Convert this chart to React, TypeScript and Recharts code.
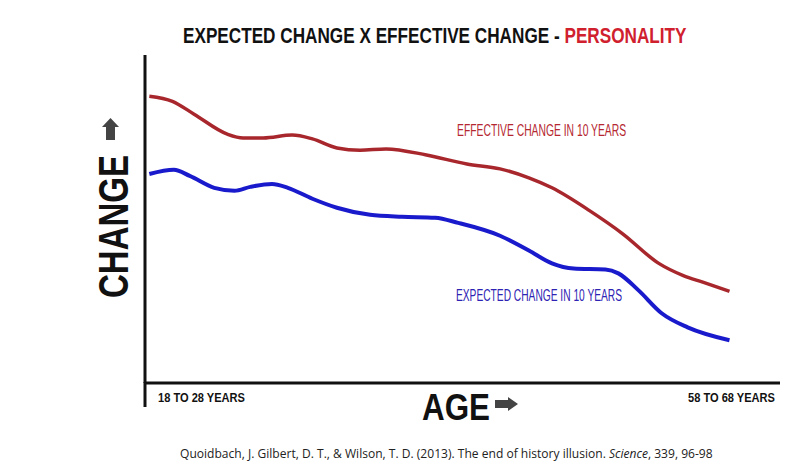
import { LineChart, Line, XAxis, YAxis, ReferenceDot } from "recharts";

// age (years) and perceived change
const effectiveAge = [18.3, 19.9, 21.4, 23.7, 24.8, 26.2, 28.2, 29.6, 31.3, 32.9, 34.7, 37.5, 40.3, 42.6, 44.6, 46.2, 48.8, 51.1, 53.6, 55.3, 56.7, 58.5];
const effectiveChange = [89.2, 87.6, 83.6, 77.4, 76.2, 76.2, 77.1, 75.9, 73.1, 72.4, 72.8, 70.9, 68.1, 66.6, 63.8, 60.7, 53.6, 46.4, 37.2, 33.4, 31.3, 28.5];

const expectedAge = [18.3, 20.0, 21.1, 22.8, 24.2, 25.3, 26.8, 27.9, 29.6, 31.3, 33.6, 35.8, 38.1, 39.7, 42.6, 44.6, 46.2, 47.7, 49.9, 50.8, 52.2, 53.8, 55.6, 58.5];
const expectedChange = [65.0, 66.3, 64.4, 60.7, 59.8, 61.0, 61.9, 60.7, 57.3, 54.5, 52.3, 51.7, 51.4, 49.8, 45.8, 41.2, 37.2, 35.6, 35.3, 34.1, 28.8, 21.7, 17.3, 13.3];

const xTicks = [18, 62];
const xTickLabels = ["18 TO 28 YEARS", "58 TO 68 YEARS"];

const effectiveData = effectiveAge.map((age, i) => ({ age, change: effectiveChange[i] }));
const expectedData = expectedAge.map((age, i) => ({ age, change: expectedChange[i] }));

const NARROW = '"Liberation Sans Narrow", "Liberation Sans", Arial, sans-serif';
const SANS = '"Open Sans", "Noto Sans", sans-serif';
const RED_LINE = "#a8272c";
const BLUE_LINE = "#1a1acd";
const TICK = 22;

let ctx: CanvasRenderingContext2D | null = null;
const measure = (text: string, font: string) => {
  if (!ctx) ctx = document.createElement("canvas").getContext("2d");
  if (!ctx) return text.length * 7;
  ctx.font = font;
  return ctx.measureText(text).width;
};

type Part = { text: string; fill: string; italic?: boolean };

// squeezes a run of text horizontally so it fills the given width
const FitText = ({ x, y, width, size, family, bold, parts }: { x: number; y: number; width: number; size: number; family: string; bold?: boolean; parts: Part[] }) => {
  const natural = parts.reduce(
    (s, p) => s + measure(p.text, `${p.italic ? "italic " : ""}${bold ? "bold " : ""}${size}px ${family}`),
    0
  );
  const sx = width / natural;
  return (
    <text transform={`translate(${x}, ${y}) scale(${sx}, 1)`} x={0} y={0} fontFamily={family} fontSize={size} fontWeight={bold ? "bold" : "normal"} style={{ whiteSpace: "pre" }}>
      {parts.map((p, i) => (
        <tspan key={i} fill={p.fill} fontStyle={p.italic ? "italic" : "normal"}>
          {p.text}
        </tspan>
      ))}
    </text>
  );
};

const AgeTick = (props: any) => {
  const { x, y, index } = props;
  const first = index === 0;
  return (
    <g>
      {first && <line x1={x} x2={x} y1={y - TICK - 1} y2={y + 2} stroke="#111" strokeWidth={3} />}
      <text
        x={first ? x + 13 : x - 5}
        y={y - 3}
        textAnchor={first ? "start" : "end"}
        fontFamily={NARROW}
        fontWeight="bold"
        fontSize={12.5}
        fill="#111"
        textLength={87}
        lengthAdjust="spacingAndGlyphs"
      >
        {xTickLabels[index]}
      </text>
    </g>
  );
};

const AgeLabel = ({ viewBox }: any) => {
  const { x, y } = viewBox;
  const ax = x + 350;
  const ay = y + 15;
  return (
    <g>
      <text x={x + 277} y={y + 37} fontFamily={NARROW} fontWeight="bold" fontSize={37} fill="#111" textLength={68} lengthAdjust="spacingAndGlyphs">
        AGE
      </text>
      <path
        d={`M${ax} ${ay + 2} H${ax + 13} V${ay - 1} L${ax + 23} ${ay + 6} L${ax + 13} ${ay + 13} V${ay + 10} H${ax} Z`}
        fill="#444"
      />
    </g>
  );
};

const ChangeLabel = ({ viewBox }: any) => {
  const { x, y } = viewBox;
  const bx = x + 43;
  const cy = y + 171.5;
  const ax = x + 25.5;
  const ay = y + 63;
  return (
    <g>
      <text
        x={bx}
        y={cy}
        transform={`rotate(-90, ${bx}, ${cy})`}
        textAnchor="middle"
        fontFamily={NARROW}
        fontWeight="bold"
        fontSize={42}
        fill="#111"
        textLength={143}
        lengthAdjust="spacingAndGlyphs"
      >
        CHANGE
      </text>
      <path
        d={`M${ax} ${ay} L${ax + 8.5} ${ay + 9} H${ax + 4.5} V${ay + 22} H${ax - 4.5} V${ay + 9} H${ax - 8.5} Z`}
        fill="#444"
      />
    </g>
  );
};

const seriesName = (text: string, color: string, width: number) => (p: any) => (
  <text
    x={p.cx}
    y={p.cy}
    textAnchor="middle"
    fontFamily={NARROW}
    fontSize={16.5}
    fill={color}
    textLength={width}
    lengthAdjust="spacingAndGlyphs"
  >
    {text}
  </text>
);

export default function App() {
  return (
    <div style={{ position: "absolute", left: 0, top: 0, width: 800, height: 469, background: "#fff" }}>
      <LineChart width={800} height={469} margin={{ top: 55, right: 20, left: 85, bottom: 26 }}>
        <XAxis
          type="number"
          dataKey="age"
          domain={[18, 62]}
          ticks={xTicks}
          allowDataOverflow
          height={60}
          axisLine={{ stroke: "#111", strokeWidth: 3 }}
          tickLine={false}
          tickSize={TICK}
          tickMargin={0}
          tick={<AgeTick />}
          label={{ content: AgeLabel }}
        />
        <YAxis
          type="number"
          dataKey="change"
          domain={[0, 102]}
          ticks={[0]}
          width={60}
          axisLine={{ stroke: "#111", strokeWidth: 3 }}
          tickLine={{ stroke: "#111", strokeWidth: 3 }}
          tickSize={30}
          tick={false}
          label={{ content: ChangeLabel }}
        />
        <Line
          data={effectiveData}
          dataKey="change"
          type="monotone"
          stroke={RED_LINE}
          strokeWidth={3.5}
          dot={false}
          isAnimationActive={false}
        />
        <Line
          data={expectedData}
          dataKey="change"
          type="monotone"
          stroke={BLUE_LINE}
          strokeWidth={4}
          dot={false}
          isAnimationActive={false}
        />
        <ReferenceDot x={45.48} y={76.8} r={0} shape={seriesName("EFFECTIVE CHANGE IN 10 YEARS", "#b52730", 169)} />
        <ReferenceDot x={45.3} y={25.5} r={0} shape={seriesName("EXPECTED CHANGE IN 10 YEARS", "#2d23b4", 166)} />
      </LineChart>
      <svg width={800} height={469} style={{ position: "absolute", left: 0, top: 0, pointerEvents: "none" }}>
        <FitText
          x={183}
          y={43}
          width={504}
          size={22}
          family={NARROW}
          bold
          parts={[
            { text: "EXPECTED CHANGE X EFFECTIVE CHANGE - ", fill: "#111" },
            { text: "PERSONALITY", fill: "#d0202e" },
          ]}
        />
        <FitText
          x={180}
          y={458}
          width={533}
          size={13}
          family={SANS}
          parts={[
            { text: "Quoidbach, J. Gilbert, D. T., & Wilson, T. D. (2013). The end of history illusion. ", fill: "#222" },
            { text: "Science", fill: "#222", italic: true },
            { text: ", 339, 96-98", fill: "#222" },
          ]}
        />
      </svg>
    </div>
  );
}
